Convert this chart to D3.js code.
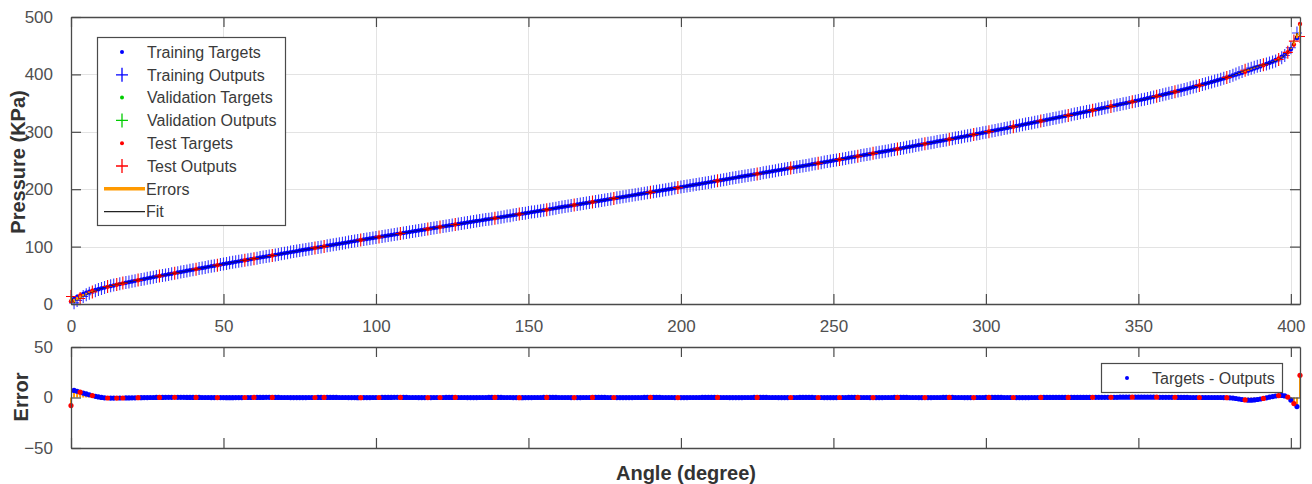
<!DOCTYPE html>
<html>
<head>
<meta charset="utf-8">
<script src="https://cdn.jsdelivr.net/npm/d3@7"></script>
<style>
  html, body { margin: 0; padding: 0; background: #fff; }
  svg { display: block; font-family: "Liberation Sans", Arial, Helvetica, sans-serif; }
</style>
</head>
<body>
<svg id="chart" width="1312" height="484"></svg>
<script>
// Pressure target per degree of angle (0..403 deg, 1 deg step), KPa
const pressure = [
  5, 9, 12.5, 15, 17.5, 19.5, 21.5, 23, 24.5, 26,
  27.3, 28.6, 29.9, 31.1, 32.3, 33.5, 34.7, 35.9, 37, 38.1,
  39.2, 40.3, 41.4, 42.5, 43.6, 44.7, 45.8, 46.8, 47.8, 48.8,
  49.8, 50.8, 51.8, 52.8, 53.8, 54.8, 55.8, 56.8, 57.8, 58.8,
  59.8, 60.8, 61.8, 62.7, 63.7, 64.7, 65.7, 66.6, 67.6, 68.6,
  69.6, 70.5, 71.5, 72.4, 73.4, 74.3, 75.3, 76.2, 77.2, 78.1,
  79.1, 80, 80.9, 81.9, 82.8, 83.7, 84.7, 85.6, 86.5, 87.5,
  88.4, 89.3, 90.3, 91.2, 92.1, 93.1, 94, 94.9, 95.8, 96.8,
  97.7, 98.6, 99.5, 100.4, 101.4, 102.3, 103.2, 104.1, 105, 105.9,
  106.8, 107.7, 108.7, 109.6, 110.5, 111.4, 112.3, 113.2, 114.1, 115,
  115.9, 116.8, 117.7, 118.5, 119.4, 120.3, 121.2, 122, 122.9, 123.8,
  124.6, 125.5, 126.4, 127.2, 128.1, 129, 129.8, 130.7, 131.6, 132.4,
  133.3, 134.2, 135, 135.9, 136.7, 137.6, 138.5, 139.3, 140.2, 141,
  141.9, 142.8, 143.6, 144.5, 145.3, 146.2, 147.1, 147.9, 148.8, 149.6,
  150.5, 151.4, 152.2, 153.1, 153.9, 154.8, 155.7, 156.5, 157.4, 158.2,
  159.1, 160, 160.9, 161.8, 162.6, 163.5, 164.4, 165.3, 166.2, 167.1,
  168, 168.9, 169.8, 170.6, 171.5, 172.4, 173.3, 174.2, 175.1, 176,
  176.9, 177.8, 178.6, 179.5, 180.4, 181.3, 182.2, 183.1, 184, 184.8,
  185.7, 186.6, 187.5, 188.4, 189.3, 190.2, 191.1, 192, 192.9, 193.7,
  194.6, 195.5, 196.4, 197.3, 198.2, 199.1, 200, 200.9, 201.8, 202.7,
  203.6, 204.5, 205.4, 206.4, 207.3, 208.2, 209.1, 210.1, 211, 211.9,
  212.8, 213.8, 214.7, 215.6, 216.5, 217.5, 218.4, 219.3, 220.2, 221.2,
  222.1, 223, 223.9, 224.9, 225.8, 226.7, 227.6, 228.6, 229.5, 230.4,
  231.3, 232.3, 233.2, 234.1, 235, 236, 236.9, 237.8, 238.7, 239.7,
  240.6, 241.5, 242.4, 243.4, 244.3, 245.2, 246.1, 247.1, 248, 248.9,
  249.9, 250.9, 251.8, 252.8, 253.7, 254.7, 255.7, 256.6, 257.6, 258.5,
  259.5, 260.5, 261.4, 262.4, 263.3, 264.3, 265.3, 266.2, 267.2, 268.1,
  269.1, 270.1, 271, 272, 273, 274, 275, 276, 277, 278,
  279, 280, 281, 282, 283, 284, 285, 286, 287, 288,
  289, 290, 291, 292, 293, 294.1, 295.1, 296.2, 297.2, 298.3,
  299.3, 300.4, 301.4, 302.5, 303.5, 304.6, 305.6, 306.7, 307.8, 308.9,
  310, 311.1, 312.2, 313.3, 314.4, 315.5, 316.6, 317.7, 318.8, 319.9,
  321, 322.1, 323.2, 324.3, 325.4, 326.5, 327.6, 328.7, 329.8, 330.9,
  332, 333.1, 334.2, 335.3, 336.4, 337.6, 338.7, 339.8, 341, 342.1,
  343.3, 344.4, 345.6, 346.7, 347.9, 349, 350.2, 351.3, 352.5, 353.6,
  354.8, 356, 357.2, 358.4, 359.7, 360.9, 362.1, 363.4, 364.6, 365.9,
  367.2, 368.5, 369.8, 371.2, 372.5, 373.9, 375.2, 376.6, 378, 379.4,
  380.8, 382.3, 383.8, 385.3, 386.8, 388.3, 389.8, 391.4, 393, 394.6,
  396.2, 397.9, 399.6, 401.3, 403, 404.7, 406.5, 408.3, 410.1, 412,
  413.9, 415.9, 418, 420.2, 422.5, 425, 427.8, 431, 434.6, 438.8,
  444, 452, 463, 488
];

// Error (target - output) per sample, KPa
const errors = [
  -8, 7, 6.2, 5.3, 4.4, 3.5, 2.7, 1.9, 1.2, 0.6,
  0.1, -0.3, -0.5, -0.6, -0.6, -0.6, -0.5, -0.5, -0.4, -0.4,
  -0.3, -0.3, -0.2, -0.2, -0.1, -0.1, 0, 0, 0.1, 0.1,
  0.1, 0.2, 0.2, 0.2, 0.2, 0.2, 0.2, 0.2, 0.1, 0.1,
  0.1, 0.1, 0.1, 0, 0, 0, -0.1, -0.1, -0.1, -0.1,
  -0.1, -0.2, -0.2, -0.2, -0.1, -0.1, -0.1, 0, 0, 0,
  0.1, 0.1, 0.1, 0.1, 0.2, 0.2, 0.1, 0.1, 0.1, 0,
  0, 0, -0.1, -0.1, -0.1, -0.1, -0.1, -0.1, 0, 0,
  0, 0.1, 0.1, 0.1, 0.1, 0.1, 0.1, 0.1, 0, 0,
  0, -0.1, -0.1, -0.1, -0.2, -0.2, -0.1, -0.1, -0.1, 0,
  0, 0, 0.1, 0.1, 0.1, 0.1, 0.2, 0.2, 0.1, 0.1,
  0.1, 0, 0, 0, -0.1, -0.1, -0.1, -0.1, -0.1, 0,
  0, 0, 0, 0.1, 0.1, 0.1, 0.1, 0, 0, 0,
  -0.1, -0.1, -0.1, -0.1, 0, 0, 0, 0.1, 0.1, 0.1,
  0.1, 0.1, 0, 0, 0, -0.1, -0.1, -0.2, -0.2, -0.1,
  -0.1, -0.1, 0, 0, 0, 0.1, 0.1, 0.1, 0.1, 0.1,
  0, 0, 0, 0, -0.1, -0.1, -0.1, -0.1, 0, 0,
  0, 0.1, 0.1, 0.1, 0.1, 0.1, 0, 0, 0, -0.1,
  -0.1, -0.1, -0.1, -0.1, -0.1, 0, 0, 0, 0.1, 0.1,
  0.1, 0.1, 0.1, 0.1, 0, 0, 0, 0, -0.1, -0.1,
  -0.1, -0.1, -0.1, 0, 0, 0, 0, 0.1, 0.1, 0.1,
  0.1, 0.1, 0.1, 0, 0, 0, -0.1, -0.1, -0.1, -0.1,
  -0.1, 0, 0, 0, 0.1, 0.1, 0.1, 0.1, 0.1, 0,
  0, 0, -0.1, -0.1, -0.1, -0.1, 0, 0, 0, 0.1,
  0.1, 0.1, 0.1, 0.1, 0, 0, 0, -0.1, -0.1, -0.1,
  -0.1, -0.1, 0, 0, 0, 0.1, 0.1, 0.1, 0.1, 0,
  0, 0, -0.1, -0.1, -0.1, -0.1, -0.1, 0, 0, 0,
  0.1, 0.1, 0.1, 0.1, 0.1, 0, 0, 0, -0.1, -0.1,
  -0.1, -0.1, -0.1, 0, 0, 0, 0.1, 0.1, 0.1, 0.1,
  0, 0, 0, -0.1, -0.1, -0.1, -0.1, 0, 0, 0,
  0.1, 0.1, 0.1, 0.1, 0.1, 0.1, 0, 0, 0, 0,
  -0.1, -0.1, -0.1, -0.1, -0.1, 0, 0, 0, 0.1, 0.1,
  0.1, 0.1, 0.1, 0.1, 0.1, 0.1, 0.1, 0.1, 0.1, 0.1,
  0.1, 0.1, 0.1, 0.1, 0.1, 0.2, 0.2, 0.2, 0.2, 0.2,
  0.2, 0.2, 0.2, 0.2, 0.3, 0.3, 0.3, 0.3, 0.3, 0.3,
  0.3, 0.3, 0.3, 0.3, 0.3, 0.3, 0.3, 0.2, 0.2, 0.2,
  0.2, 0.2, 0.2, 0.1, 0.1, 0.1, 0.1, 0, 0, 0,
  0, 0, 0, 0, 0, 0, 0, 0, -0.1, -0.2,
  -0.3, -0.6, -1, -1.5, -2, -2.4, -2.6, -2.6, -2.4, -2,
  -1.5, -0.9, -0.3, 0.3, 0.9, 1.5, 1.9, 2.1, 1.6, 0.4,
  -2.5, -6, -9, 22
];

// Sample indices held out for testing; all others were used for training
const testIdx = [
  0, 3, 7, 12, 15, 17, 22, 29, 34, 41, 48, 57, 60, 66, 80, 83, 95, 101, 108,
  117, 121, 126, 139, 147, 156, 165, 171, 178, 190, 199, 212, 225, 236, 245,
  252, 258, 263, 271, 280, 288, 296, 301, 309, 318, 327, 335, 341, 348, 356,
  362, 370, 379, 385, 391, 396, 399, 401, 403
];
const validIdx = [];

const xTicks = [0, 50, 100, 150, 200, 250, 300, 350, 400];
const yTicksTop = [0, 100, 200, 300, 400, 500];
const yTicksBot = [-50, 0, 50];

const legendTop = [
  { label: "Training Targets", kind: "dot", color: "#0000ff" },
  { label: "Training Outputs", kind: "plus", color: "#0000ff" },
  { label: "Validation Targets", kind: "dot", color: "#00cc00" },
  { label: "Validation Outputs", kind: "plus", color: "#00cc00" },
  { label: "Test Targets", kind: "dot", color: "#ff0000" },
  { label: "Test Outputs", kind: "plus", color: "#ff0000" },
  { label: "Errors", kind: "err", color: "#ff9900" },
  { label: "Fit", kind: "fit", color: "#000000" }
];

const COL = { train: "#0000ff", valid: "#00cc00", test: "#ff0000", err: "#ff9900" };
const axisColor = "#4a4a4a";
const textColor = "#3a3a3a";

const testSet = new Set(testIdx), validSet = new Set(validIdx);
const samples = pressure.map((t, i) => ({
  angle: i,
  target: t,
  error: errors[i],
  output: t - errors[i],
  set: testSet.has(i) ? "test" : validSet.has(i) ? "valid" : "train"
}));

const svg = d3.select("#chart");
svg.append("rect").attr("width", 1312).attr("height", 484).attr("fill", "#fff");

const L = 71, R = 1300;
const x = d3.scaleLinear().domain([0, 403]).range([L, R]);
const yTop = d3.scaleLinear().domain([0, 500]).range([304, 17]);
const yBot = d3.scaleLinear().domain([-50, 50]).range([448, 347]);

function gridLines(y, yTicks) {
  const g = svg.append("g");
  const [y0, y1] = y.range();
  g.selectAll(".gx").data(xTicks).join("line")
    .attr("x1", d => Math.round(x(d)) + 0.5).attr("x2", d => Math.round(x(d)) + 0.5)
    .attr("y1", y1).attr("y2", y0).attr("stroke", "#e3e3e3");
  g.selectAll(".gy").data(yTicks).join("line")
    .attr("y1", d => Math.round(y(d)) + 0.5).attr("y2", d => Math.round(y(d)) + 0.5)
    .attr("x1", L).attr("x2", R).attr("stroke", "#e3e3e3");
  return g;
}

function axesBox(y, yTicks, showXLabels) {
  const g = svg.append("g");
  const [y0, y1] = y.range();
  const tl = 10;
  const axB = d3.axisBottom(x).tickValues(xTicks).tickSizeInner(-tl).tickSizeOuter(0)
    .tickPadding(16).tickFormat(showXLabels ? d3.format("d") : () => "");
  const gb = g.append("g").attr("transform", `translate(0,${y0})`).call(axB);
  const axT = d3.axisTop(x).tickValues(xTicks).tickSizeInner(-tl).tickSizeOuter(0).tickFormat(() => "");
  const gt = g.append("g").attr("transform", `translate(0,${y1})`).call(axT);
  const axL = d3.axisLeft(y).tickValues(yTicks).tickSizeInner(-tl).tickSizeOuter(0).tickPadding(18);
  const gl = g.append("g").attr("transform", `translate(${L},0)`).call(axL);
  const axR = d3.axisRight(y).tickValues(yTicks).tickSizeInner(-tl).tickSizeOuter(0).tickFormat(() => "");
  const gr = g.append("g").attr("transform", `translate(${R},0)`).call(axR);
  [gb, gt, gl, gr].forEach(a => {
    a.select(".domain").attr("stroke", axisColor).attr("stroke-width", 1.3);
    a.selectAll(".tick line").attr("stroke", axisColor).attr("stroke-width", 1.2);
    a.selectAll(".tick text").attr("fill", "#505050").attr("font-size", 17)
      .attr("font-family", "Liberation Sans, Arial, sans-serif");
  });
  return g;
}

const plusPath = "M-5,0H5M0,-6.5V6.5";

// ---------- upper panel: response ----------
gridLines(yTop, yTicksTop);
const gResp = svg.append("g");
["valid", "train", "test"].forEach(s => {
  const pts = samples.filter(d => d.set === s);
  gResp.append("g").selectAll("path").data(pts).join("path")
    .attr("transform", d => `translate(${x(d.angle)},${yTop(d.output)})`)
    .attr("d", plusPath).attr("stroke", COL[s]).attr("stroke-width", 1.1)
    .attr("stroke-opacity", s === "train" ? 0.8 : 1).attr("fill", "none");
  gResp.append("g").selectAll("circle").data(pts).join("circle")
    .attr("cx", d => x(d.angle)).attr("cy", d => yTop(d.target))
    .attr("r", 2.2).attr("fill", COL[s]);
});
// error segments between target and output
gResp.append("g").selectAll("line").data(samples).join("line")
  .attr("x1", d => x(d.angle)).attr("x2", d => x(d.angle))
  .attr("y1", d => yTop(d.target)).attr("y2", d => yTop(d.output))
  .attr("stroke", COL.err).attr("stroke-width", 2);
// fit line through outputs
gResp.append("path").datum(samples)
  .attr("d", d3.line().x(d => x(d.angle)).y(d => yTop(d.output)))
  .attr("fill", "none").attr("stroke", "#000").attr("stroke-width", 0.8).attr("stroke-opacity", 0.6);
axesBox(yTop, yTicksTop, true);

// legend (upper)
const lg = svg.append("g");
lg.append("rect").attr("x", 97.5).attr("y", 37.5).attr("width", 188).attr("height", 188)
  .attr("fill", "#fff").attr("stroke", axisColor).attr("stroke-width", 1.2);
legendTop.forEach((e, i) => {
  const cy = 52 + i * 22.8;
  const row = lg.append("g");
  if (e.kind === "dot") {
    row.append("circle").attr("cx", 122).attr("cy", cy).attr("r", 2).attr("fill", e.color);
  } else if (e.kind === "plus") {
    row.append("path").attr("transform", `translate(122,${cy})`).attr("d", "M-6,0H6M0,-7V7")
      .attr("stroke", e.color).attr("stroke-width", 1.3);
  } else if (e.kind === "err") {
    row.append("line").attr("x1", 104).attr("x2", 145).attr("y1", cy).attr("y2", cy)
      .attr("stroke", e.color).attr("stroke-width", 3.5);
  } else {
    row.append("line").attr("x1", 104).attr("x2", 145).attr("y1", cy).attr("y2", cy)
      .attr("stroke", "#222").attr("stroke-width", 1.2);
  }
  row.append("text").attr("x", e.kind === "err" || e.kind === "fit" ? 146 : 147).attr("y", cy)
    .attr("dy", "0.36em").attr("font-size", 16).attr("fill", textColor).text(e.label);
});

// ---------- lower panel: errors ----------
const gErr = svg.append("g");
gErr.append("g").selectAll("line").data(samples).join("line")
  .attr("x1", d => x(d.angle)).attr("x2", d => x(d.angle))
  .attr("y1", yBot(0)).attr("y2", d => yBot(d.error))
  .attr("stroke", COL.err).attr("stroke-width", 2);
["valid", "train", "test"].forEach(s => {
  gErr.append("g").selectAll("circle").data(samples.filter(d => d.set === s)).join("circle")
    .attr("cx", d => x(d.angle)).attr("cy", d => yBot(d.error))
    .attr("r", 2.6).attr("fill", COL[s]);
});
axesBox(yBot, yTicksBot, false);

// legend (lower)
const lb = svg.append("g");
lb.append("rect").attr("x", 1101.5).attr("y", 363.5).attr("width", 181).attr("height", 29)
  .attr("fill", "#fff").attr("stroke", axisColor).attr("stroke-width", 1.2);
lb.append("circle").attr("cx", 1127).attr("cy", 378).attr("r", 2).attr("fill", COL.train);
lb.append("text").attr("x", 1152).attr("y", 378).attr("dy", "0.36em").attr("font-size", 16)
  .attr("fill", textColor).text("Targets - Outputs");

// ---------- axis titles ----------
svg.append("text").attr("transform", "translate(25,162) rotate(-90)")
  .attr("text-anchor", "middle").attr("font-size", 20).attr("font-weight", "bold")
  .attr("fill", "#333").text("Pressure (KPa)");
svg.append("text").attr("transform", "translate(28,397) rotate(-90)")
  .attr("text-anchor", "middle").attr("font-size", 20).attr("font-weight", "bold")
  .attr("fill", "#333").text("Error");
svg.append("text").attr("x", 686).attr("y", 480)
  .attr("text-anchor", "middle").attr("font-size", 20).attr("font-weight", "bold")
  .attr("fill", "#333").text("Angle (degree)");
</script>
</body>
</html>
